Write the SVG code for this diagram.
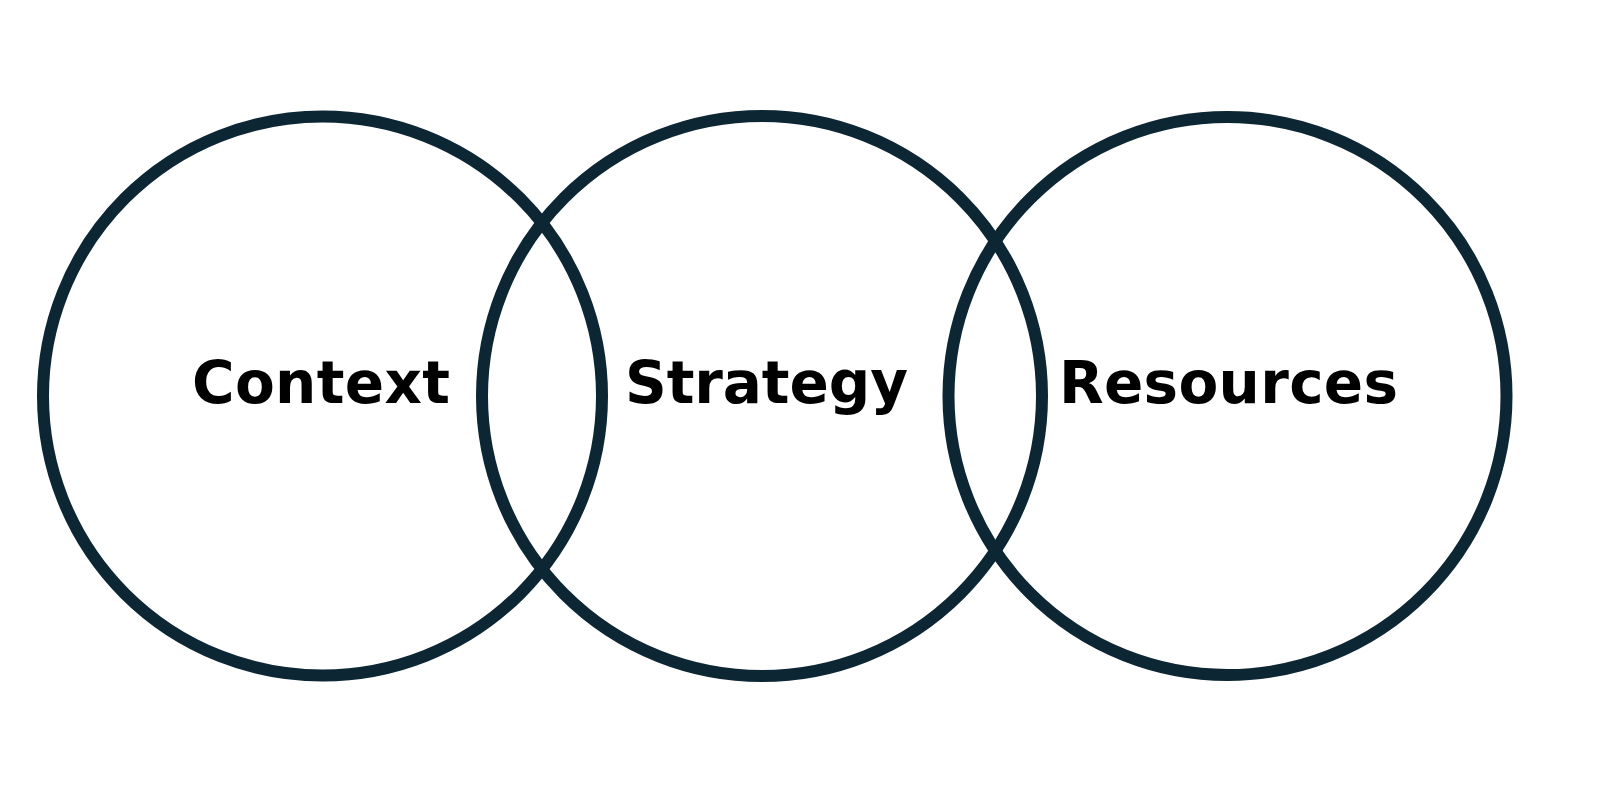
<svg xmlns="http://www.w3.org/2000/svg" width="1600" height="786" viewBox="0 0 1600 786">
<style>
.ring{fill:none;stroke:#0d2633;stroke-width:12}
.lbl{font-family:"DejaVu Sans","Noto Sans","Liberation Sans",sans-serif;font-weight:700;font-size:58px;fill:#000;text-anchor:middle}
</style>
<rect width="1600" height="786" fill="#fff"/>
<g id="context">
<circle class="ring" cx="322.5" cy="396" r="279.5"/>
<text class="lbl" x="321" y="403" textLength="258" lengthAdjust="spacing">Context</text>
</g>
<g id="strategy">
<circle class="ring" cx="762" cy="396" r="280"/>
<text class="lbl" x="766.5" y="403" textLength="283" lengthAdjust="spacing">Strategy</text>
</g>
<g id="resources">
<circle class="ring" cx="1227.5" cy="396" r="279"/>
<text class="lbl" x="1228.5" y="403" textLength="339" lengthAdjust="spacing">Resources</text>
</g>
<g id="connectors"/>
</svg>
